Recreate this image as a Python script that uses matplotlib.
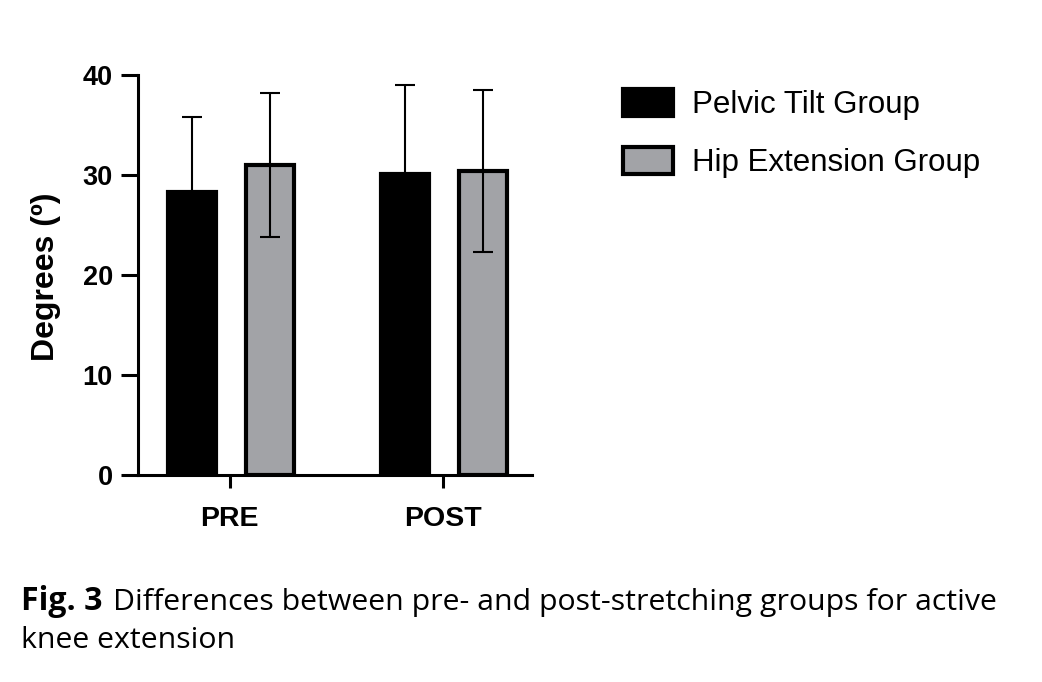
import numpy as np
import matplotlib.pyplot as plt

# data
groups = ['PRE', 'POST']
series = ['Pelvic Tilt Group', 'Hip Extension Group']
pelvic_mean = [28.3, 30.1]
pelvic_sd = [7.5, 8.9]
hip_mean = [31.0, 30.4]
hip_sd = [7.2, 8.1]
yticks = [0, 10, 20, 30, 40]

means = [pelvic_mean, hip_mean]
sds = [pelvic_sd, hip_sd]
colors = ['#000000', '#a2a3a7']

plt.rcParams['font.family'] = ['Liberation Sans', 'DejaVu Sans']

W, H = 1042, 682
fig = plt.figure(figsize=(W / 100, H / 100), dpi=100)
ax = fig.add_axes([138 / W, 1 - 475 / H, (532 - 138) / W, 400 / H])

x = np.arange(len(groups))
offsets = [-0.178, 0.187]
width = 0.225
for i, s in enumerate(series):
    ax.bar(x + offsets[i], means[i], width, color=colors[i], edgecolor='black',
           linewidth=3, label=s, zorder=2)
    ax.errorbar(x + offsets[i], means[i], yerr=sds[i], fmt='none', ecolor='black',
                elinewidth=1.5, capsize=7.5, capthick=1.5, zorder=3)

ax.set_xlim(-0.43, 1.416)
ax.set_ylim(0, 40)
ax.set_yticks(yticks)
ax.set_xticks(x)
ax.set_xticklabels(groups, fontsize=20.5, fontweight='bold')
ax.set_yticklabels([str(t) for t in yticks], fontsize=19.5, fontweight='bold')
for sp in ['top', 'right']:
    ax.spines[sp].set_visible(False)
for sp in ['left', 'bottom']:
    ax.spines[sp].set_linewidth(2.2)
ax.tick_params(axis='y', length=12, width=2.2, pad=6)
ax.tick_params(axis='x', length=9, width=2.2, pad=13.5)
ax.set_ylabel('Degrees (º)', fontsize=23, fontweight='bold')
ax.yaxis.set_label_coords(-0.195, 0.496)

fig.legend(loc='upper left', bbox_to_anchor=(623 / W, 1 - 89 / H), frameon=False,
           fontsize=22.5, borderpad=0, borderaxespad=0, handlelength=1.6,
           handleheight=0.95, handletextpad=0.62, labelspacing=0.86)

# caption
cap_font = ['Open Sans', 'DejaVu Sans']
t1 = fig.text(21 / W, 1 - 610 / H, 'Fig. 3', fontsize=18, fontweight='bold',
              family=cap_font, va='baseline')
t2 = fig.text(113 / W, 1 - 610 / H,
              'Differences between pre- and post-stretching groups for active',
              fontsize=18, family=cap_font, va='baseline')
fig.canvas.draw()
r = fig.canvas.get_renderer()
w1 = t1.get_window_extent(r).width
t1.set_fontsize(18 * 81 / w1)
w2 = t2.get_window_extent(r).width
f2 = 18 * 884 / w2
t2.set_fontsize(f2)
fig.text(21 / W, 1 - 648 / H, 'knee extension', fontsize=f2, family=cap_font,
         va='baseline')

fig.savefig('out.png', dpi=100)
